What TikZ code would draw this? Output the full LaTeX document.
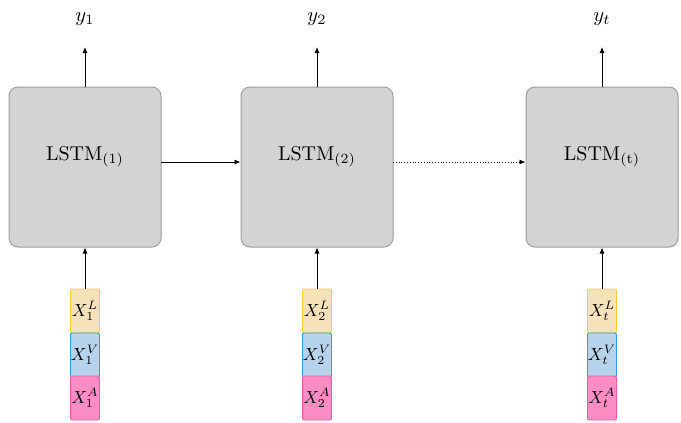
\documentclass[tikz,border=0pt]{standalone}
\usepackage{graphicx}
\usetikzlibrary{arrows.meta}
\definecolor{boxfill}{HTML}{D3D3D3}
\definecolor{boxdraw}{HTML}{9E9E9E}
\definecolor{lfill}{HTML}{F6E2BA}
\definecolor{ldraw}{HTML}{EFD044}
\definecolor{vfill}{HTML}{B7D3EC}
\definecolor{vdraw}{HTML}{2E9CF2}
\definecolor{afill}{HTML}{FC8CC4}
\definecolor{adraw}{HTML}{EA5AA6}
\newcommand{\bigtext}[1]{\scalebox{2.0}{#1}}
\newcommand{\ytext}[1]{\scalebox{2.05}{#1}}
\newcommand{\intext}[1]{\scalebox{1.75}{#1}}
\tikzset{
  lstm/.style={draw=boxdraw, fill=boxfill, line width=1pt, rounded corners=9pt,
    minimum width=152pt, minimum height=160pt, inner sep=0pt},
  inbox/.style={line width=0.9pt, rounded corners=2pt, minimum width=29pt, minimum height=44pt,
    inner sep=0pt},
  lbox/.style={inbox, draw=ldraw, fill=lfill},
  vbox/.style={inbox, draw=vdraw, fill=vfill},
  abox/.style={inbox, draw=adraw, fill=afill},
  outlab/.style={inner sep=0pt},
  lstmlab/.style={inner sep=0pt},
  arr/.style={-{Latex[length=6pt,width=5pt]}, line width=0.8pt},
}
\begin{document}
\begin{tikzpicture}[x=1pt,y=-1pt]
\useasboundingbox (0,0) rectangle (681,423);
\foreach \i/\cx/\s in {1/85/1, 2/317/2, 3/602/t}{
  \node[lstm] (b\i) at (\cx,167) {};
  \node[lstmlab] (t\i) at (\cx,157) {\bigtext{$\mathrm{LSTM}_{\mathrm{(\s)}}$}};
  \node[lbox] (l\i) at (\cx,311) {\intext{$X_{\s}^{L}$}};
  \node[vbox] (v\i) at (\cx,355) {\intext{$X_{\s}^{V}$}};
  \node[abox] (a\i) at (\cx,398) {\intext{$X_{\s}^{A}$}};
  \coordinate (o\i) at (\cx,47);
  \node[outlab] (y\i) at (\cx,19) {\ytext{$y_{\s}$}};
  \draw[arr] (l\i.north) -- (b\i.south);
  \draw[arr] (b\i.north) -- (o\i);
}
\coordinate (r1) at (161,162);
\coordinate (r2) at (393,162);
\draw[arr] (r1) -- (r1 -| b2.west);
\draw[arr, dotted] (r2) -- (r2 -| b3.west);
\end{tikzpicture}
\end{document}
